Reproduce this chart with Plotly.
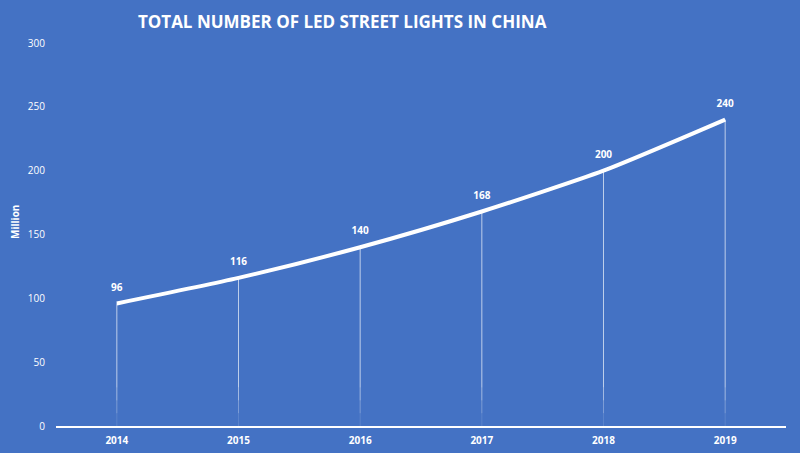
import plotly.graph_objects as go

years = ["2014", "2015", "2016", "2017", "2018", "2019"]
values = [96, 116, 140, 168, 200, 240]
title_text = "TOTAL NUMBER OF LED STREET LIGHTS IN CHINA"
y_title = "Million"

BG = "#4472C4"
FONT = "Open Sans"

fig = go.Figure()

# drop lines from each point to the axis, fading toward the bottom
fade_steps = [(30, 0.65), (20, 0.5), (10, 0.3), (0, 0.12)]
upper = list(values)
for level, alpha in fade_steps:
    fig.add_trace(go.Scatter(
        x=years, y=[level] * len(values), mode="markers",
        marker=dict(size=1, color="rgba(0,0,0,0)"),
        error_y=dict(type="data", symmetric=False,
                     array=[u - level for u in upper], arrayminus=[0] * len(values),
                     color=f"rgba(255,255,255,{alpha})", thickness=1, width=0),
        hoverinfo="skip", showlegend=False,
    ))
    upper = [level] * len(values)

fig.add_trace(go.Scatter(
    x=years, y=values, mode="lines",
    line=dict(color="white", width=4, shape="spline", smoothing=0.6),
    showlegend=False,
))

# value labels
fig.add_trace(go.Scatter(
    x=years, y=values, mode="markers+text",
    marker=dict(size=15, color="rgba(0,0,0,0)"),
    text=[str(v) for v in values], textposition="top center",
    textfont=dict(color="white", size=10, family=FONT, weight="bold"),
    hoverinfo="skip", showlegend=False,
))

fig.update_layout(
    width=800, height=453,
    paper_bgcolor=BG, plot_bgcolor=BG,
    margin=dict(l=56, r=14, t=43, b=27),
    title=dict(text=title_text, x=0.392, xanchor="center", xref="paper",
               y=0.951, yref="container", yanchor="middle", automargin=False,
               font=dict(color="white", size=17, family=FONT, weight="bold")),
    font=dict(family=FONT, color="white", size=10),
    xaxis=dict(range=[-0.5, 5.5], showgrid=False, zeroline=False, showline=True, linecolor="white",
               linewidth=1.5, ticks="", automargin=False,
               tickfont=dict(color="white", size=10, family=FONT, weight="bold"),
               ticklabelstandoff=4),
    yaxis=dict(range=[0, 300], tickvals=[0, 50, 100, 150, 200, 250, 300],
               showgrid=False, zeroline=False, showline=False, ticks="", automargin=False,
               tickfont=dict(color="white", size=10, family=FONT),
               ticklabelstandoff=10),
    annotations=[dict(text=y_title, x=-0.056, xref="paper", y=0.533, yref="paper",
                      xanchor="center", yanchor="middle", textangle=-90, showarrow=False,
                      font=dict(color="white", size=10, family=FONT, weight="bold"))],
)

fig.write_html(
    "out.html",
    config={"displayModeBar": False},
    post_script="document.body.style.margin='0';document.body.style.background='#4472C4';",
)
